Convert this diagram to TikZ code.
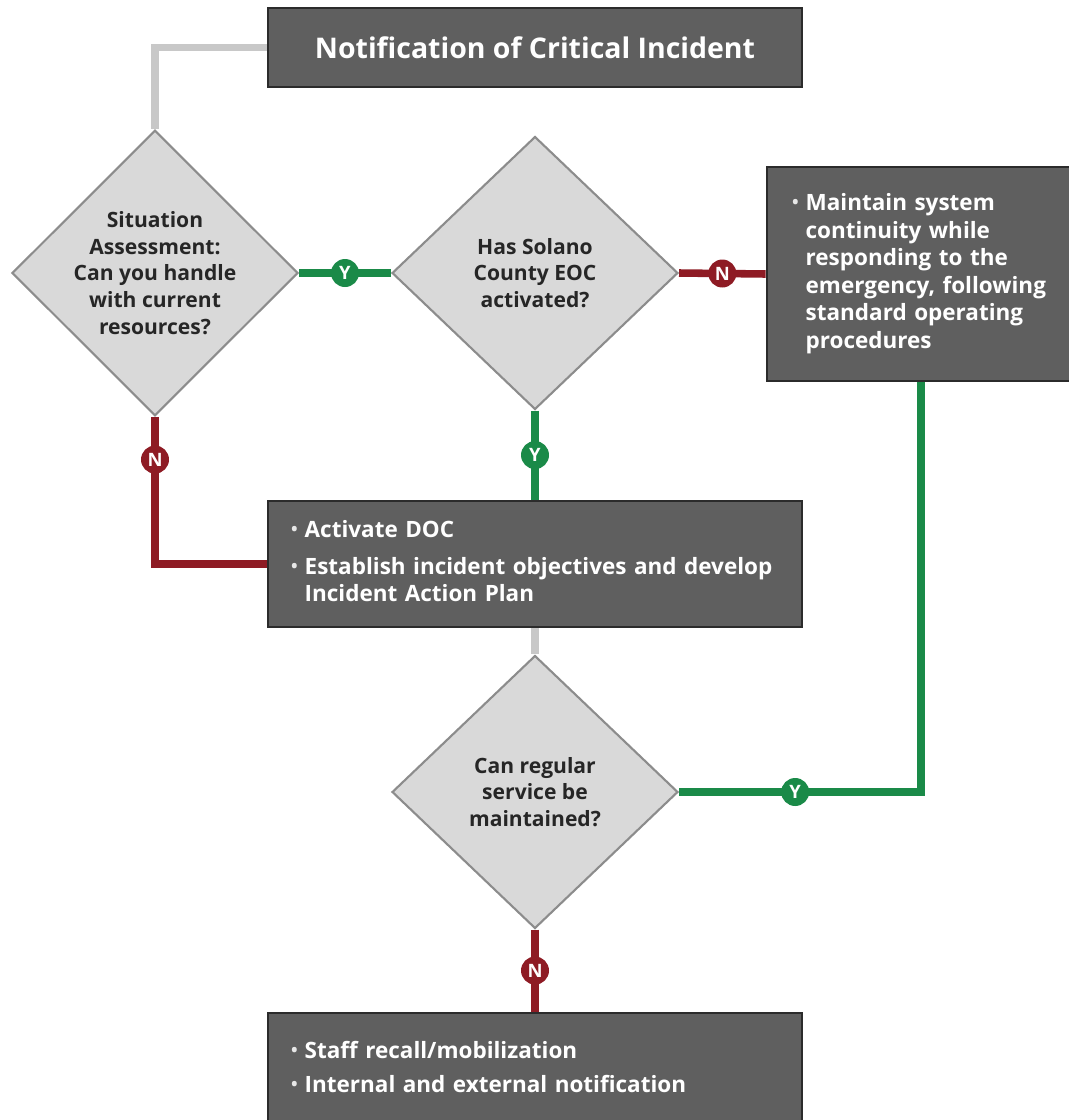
\documentclass[tikz,border=0pt]{standalone}
\usepackage{fontspec}
\setmainfont{Open Sans}
\usetikzlibrary{shapes.geometric}
\definecolor{boxgray}{HTML}{5F5F5F}
\definecolor{boxline}{HTML}{2B2B2B}
\definecolor{diafill}{HTML}{D9D9D9}
\definecolor{dialine}{HTML}{8C8C8C}
\definecolor{yesgreen}{HTML}{1A8A48}
\definecolor{nored}{HTML}{8E1B24}
\definecolor{flowgray}{HTML}{C8C8C8}
\newcommand{\blt}{\raisebox{.15ex}{\fontsize{10}{10}\selectfont\color{white!85!boxgray}\textbullet}}

\begin{document}
\begin{tikzpicture}[x=0.02cm,y=-0.02cm,
	box/.style={draw=boxline,line width=1.6pt,fill=boxgray,text=white,inner ysep=0pt,align=left,font=\bfseries\fontsize{12.8}{15.7}\selectfont},
	titlebox/.style={draw=boxline,line width=1.6pt,fill=boxgray,text=white,inner sep=0pt,minimum width=10.68cm,minimum height=1.58cm,font=\bfseries\fontsize{16.2}{18}\selectfont},
	decision/.style={diamond,draw=dialine,line width=1.2pt,fill=diafill,inner sep=0pt,minimum width=5.72cm,minimum height=5.46cm,align=center,text=black!85,font=\bfseries\fontsize{12}{15.2}\selectfont},
	yesmark/.style={circle,fill=yesgreen,text=white,inner sep=0pt,minimum size=0.56cm,font=\bfseries\fontsize{10.5}{10.5}\selectfont},
	nomark/.style={yesmark,fill=nored},
	yesline/.style={draw=yesgreen,line width=4.3pt},
	noline/.style={draw=nored,line width=4.3pt},
	plainline/.style={draw=flowgray,line width=4.3pt}]
		\useasboundingbox (0,0) rectangle (1069,1120);
		\node[titlebox] (notify) at (535,47.5) {Notification of Critical Incident};
		\node[decision] (assess) at (155,273) {Situation\\Assessment:\\Can you handle\\with current\\resources?};
		\node[decision] (eoc) at (535,273) {Has Solano\\County EOC\\activated?};
		\node[box,inner xsep=0.5cm,text width=5.16cm,minimum height=4.28cm] (maintain) at (921,274)
			{\begin{tabular}{@{}l@{\hspace{4pt}}l@{}}\blt & Maintain system\\ & continuity while\\ & responding to the\\ & emergency, following\\ & standard operating\\ & procedures\end{tabular}};
		\node[box,inner xsep=0.46cm,text width=9.76cm,minimum height=2.52cm] (doc) at (535,564)
			{\begin{tabular}{@{}l@{\hspace{4pt}}l@{}}\blt & Activate DOC\\[5.5pt] \blt & Establish incident objectives and develop\\ & Incident Action Plan\end{tabular}};
		\node[decision] (regular) at (535,792) {Can regular\\service be\\maintained?};
		\node[box,inner xsep=0.46cm,text width=9.76cm,minimum height=2.28cm] (recall) at (535,1070)
			{\begin{tabular}{@{}l@{\hspace{4pt}}l@{}}\blt & Staff recall/mobilization\\[4pt] \blt & Internal and external notification\end{tabular}};
		\draw[plainline] (notify.west) -| (assess.north);
		\draw[yesline] (assess.east) -- node[yesmark] (y1) {Y} (eoc.west);
		\draw[noline] (eoc.east) -- node[nomark] (n1) {N} (maintain.west);
		\draw[noline] (assess.south) |- node[nomark,pos=.145] (n2) {N} (doc.west);
		\draw[yesline] (eoc.south) -- node[yesmark] (y2) {Y} (doc.north);
		\draw[plainline] (doc.south) -- (regular.north);
		\draw[yesline] (regular.east) -| node[yesmark,pos=.24] (y3) {Y} (maintain.south);
		\draw[noline] (regular.south) -- node[nomark] (n3) {N} (recall.north);
	\end{tikzpicture}
\end{document}
